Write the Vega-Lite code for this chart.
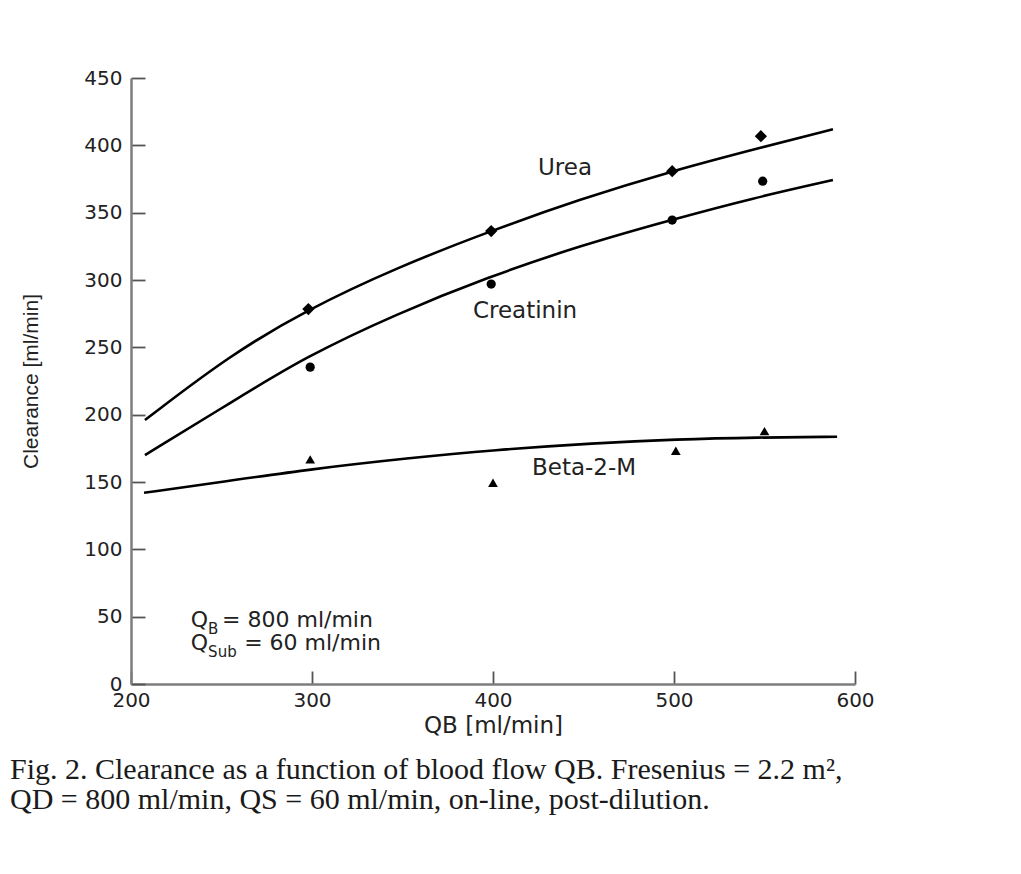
{
  "$schema": "https://vega.github.io/schema/vega-lite/v6.json",
  "width": 724,
  "height": 606,
  "autosize": {"type": "none"},
  "padding": {"left": 131, "top": 78, "right": 166, "bottom": 190},
  "background": "white",
  "config": {"view": {"stroke": null}},
  "title": {
    "text": ["Fig. 2.  Clearance as a function of blood flow QB. Fresenius = 2.2 m²,", "QD = 800 ml/min, QS = 60 ml/min, on-line, post-dilution."],
    "orient": "bottom",
    "anchor": "start",
    "frame": "group",
    "dx": -121,
    "offset": 18,
    "font": "Liberation Serif",
    "fontSize": 30,
    "fontWeight": "normal",
    "lineHeight": 30,
    "color": "#1a1a1a"
  },
  "datasets": {
    "curves": [
      {"series": "Urea", "qb": 207.7, "clearance": 196.0},
      {"series": "Urea", "qb": 254.7, "clearance": 244.2},
      {"series": "Urea", "qb": 297.8, "clearance": 278.4},
      {"series": "Urea", "qb": 347.0, "clearance": 309.3},
      {"series": "Urea", "qb": 398.3, "clearance": 336.3},
      {"series": "Urea", "qb": 448.1, "clearance": 360.0},
      {"series": "Urea", "qb": 498.9, "clearance": 381.0},
      {"series": "Urea", "qb": 549.2, "clearance": 398.7},
      {"series": "Urea", "qb": 587.8, "clearance": 412.0},
      {"series": "Creatinin", "qb": 207.7, "clearance": 170.0},
      {"series": "Creatinin", "qb": 254.7, "clearance": 208.6},
      {"series": "Creatinin", "qb": 296.1, "clearance": 242.8},
      {"series": "Creatinin", "qb": 347.0, "clearance": 275.0},
      {"series": "Creatinin", "qb": 397.0, "clearance": 302.0},
      {"series": "Creatinin", "qb": 448.0, "clearance": 325.5},
      {"series": "Creatinin", "qb": 499.4, "clearance": 345.0},
      {"series": "Creatinin", "qb": 543.6, "clearance": 360.8},
      {"series": "Creatinin", "qb": 587.8, "clearance": 374.2},
      {"series": "Beta-2-M", "qb": 207.2, "clearance": 142.0},
      {"series": "Beta-2-M", "qb": 250.8, "clearance": 150.2},
      {"series": "Beta-2-M", "qb": 299.4, "clearance": 159.6},
      {"series": "Beta-2-M", "qb": 353.6, "clearance": 167.8},
      {"series": "Beta-2-M", "qb": 400.0, "clearance": 173.7},
      {"series": "Beta-2-M", "qb": 456.4, "clearance": 178.9},
      {"series": "Beta-2-M", "qb": 501.1, "clearance": 181.7},
      {"series": "Beta-2-M", "qb": 546.4, "clearance": 183.1},
      {"series": "Beta-2-M", "qb": 590.1, "clearance": 183.6}
    ],
    "points": [
      {"series": "Urea", "qb": 298, "clearance": 278.4},
      {"series": "Urea", "qb": 399, "clearance": 336.3},
      {"series": "Urea", "qb": 499, "clearance": 380.8},
      {"series": "Urea", "qb": 548, "clearance": 406.8},
      {"series": "Creatinin", "qb": 299, "clearance": 235.3},
      {"series": "Creatinin", "qb": 399, "clearance": 297.0},
      {"series": "Creatinin", "qb": 499, "clearance": 344.5},
      {"series": "Creatinin", "qb": 549, "clearance": 373.4},
      {"series": "Beta-2-M", "qb": 299, "clearance": 166.8},
      {"series": "Beta-2-M", "qb": 400, "clearance": 149.4},
      {"series": "Beta-2-M", "qb": 501, "clearance": 173.2},
      {"series": "Beta-2-M", "qb": 550, "clearance": 187.8}
    ],
    "labels": [
      {"label": "Urea", "qb": 439.8, "clearance": 383.1},
      {"label": "Creatinin", "qb": 417.7, "clearance": 276.9},
      {"label": "Beta-2-M", "qb": 450.3, "clearance": 160.4}
    ],
    "notes": [
      {"text": "Q", "qb": 233.0, "clearance": 47.5},
      {"text": "= 800 ml/min", "qb": 250.3, "clearance": 47.5},
      {"text": "Q", "qb": 233.0, "clearance": 30.4},
      {"text": "= 60 ml/min", "qb": 262.5, "clearance": 30.4}
    ],
    "subs": [
      {"text": "B", "qb": 242.6, "clearance": 41.0},
      {"text": "Sub", "qb": 242.6, "clearance": 23.5}
    ]
  },
  "encoding": {
    "x": {
      "field": "qb", "type": "quantitative",
      "scale": {"domain": [200, 600], "nice": false, "zero": false},
      "axis": {
        "title": "QB [ml/min]",
        "values": [200, 300, 400, 500, 600],
        "grid": false,
        "domainColor": "#7d7d7d", "domainWidth": 2.5,
        "tickColor": "#555555", "tickWidth": 1.8, "tickSize": -13,
        "labelFont": "DejaVu Sans", "labelFontSize": 20, "labelColor": "#222222",
        "labelPadding": 19, "labelFlush": false,
        "titleFont": "DejaVu Sans", "titleFontSize": 23, "titleFontWeight": "normal",
        "titleColor": "#222222", "titlePadding": 4
      }
    },
    "y": {
      "field": "clearance", "type": "quantitative",
      "scale": {"domain": [0, 450], "nice": false},
      "axis": {
        "title": "Clearance [ml/min]",
        "values": [0, 50, 100, 150, 200, 250, 300, 350, 400, 450],
        "grid": false,
        "domainColor": "#7d7d7d", "domainWidth": 2.5,
        "tickColor": "#555555", "tickWidth": 1.8, "tickSize": -14,
        "labelFont": "DejaVu Sans", "labelFontSize": 20, "labelColor": "#222222",
        "labelPadding": 23, "labelFlush": false,
        "titleFont": "Liberation Sans", "titleFontSize": 21, "titleFontWeight": "normal",
        "titleColor": "#222222", "titlePadding": 42
      }
    }
  },
  "layer": [
    {
      "data": {"name": "curves"},
      "mark": {"type": "line", "interpolate": "basis", "color": "black", "strokeWidth": 2.6},
      "encoding": {"detail": {"field": "series", "type": "nominal"}}
    },
    {
      "data": {"name": "points"},
      "transform": [{"filter": "datum.series === 'Urea'"}],
      "mark": {"type": "point", "shape": "diamond", "filled": true, "color": "black", "opacity": 1, "size": 150}
    },
    {
      "data": {"name": "points"},
      "transform": [{"filter": "datum.series === 'Creatinin'"}],
      "mark": {"type": "point", "shape": "circle", "filled": true, "color": "black", "opacity": 1, "size": 85}
    },
    {
      "data": {"name": "points"},
      "transform": [{"filter": "datum.series === 'Beta-2-M'"}],
      "mark": {"type": "point", "shape": "triangle-up", "filled": true, "color": "black", "opacity": 1, "size": 95}
    },
    {
      "data": {"name": "labels"},
      "mark": {"type": "text", "font": "DejaVu Sans", "fontSize": 23, "color": "#222222", "align": "center", "baseline": "middle"},
      "encoding": {"text": {"field": "label"}}
    },
    {
      "data": {"name": "notes"},
      "mark": {"type": "text", "font": "DejaVu Sans", "fontSize": 22, "color": "#222222", "align": "left", "baseline": "middle"},
      "encoding": {"text": {"field": "text"}}
    },
    {
      "data": {"name": "subs"},
      "mark": {"type": "text", "font": "DejaVu Sans", "fontSize": 15, "color": "#222222", "align": "left", "baseline": "middle"},
      "encoding": {"text": {"field": "text"}}
    }
  ]
}
